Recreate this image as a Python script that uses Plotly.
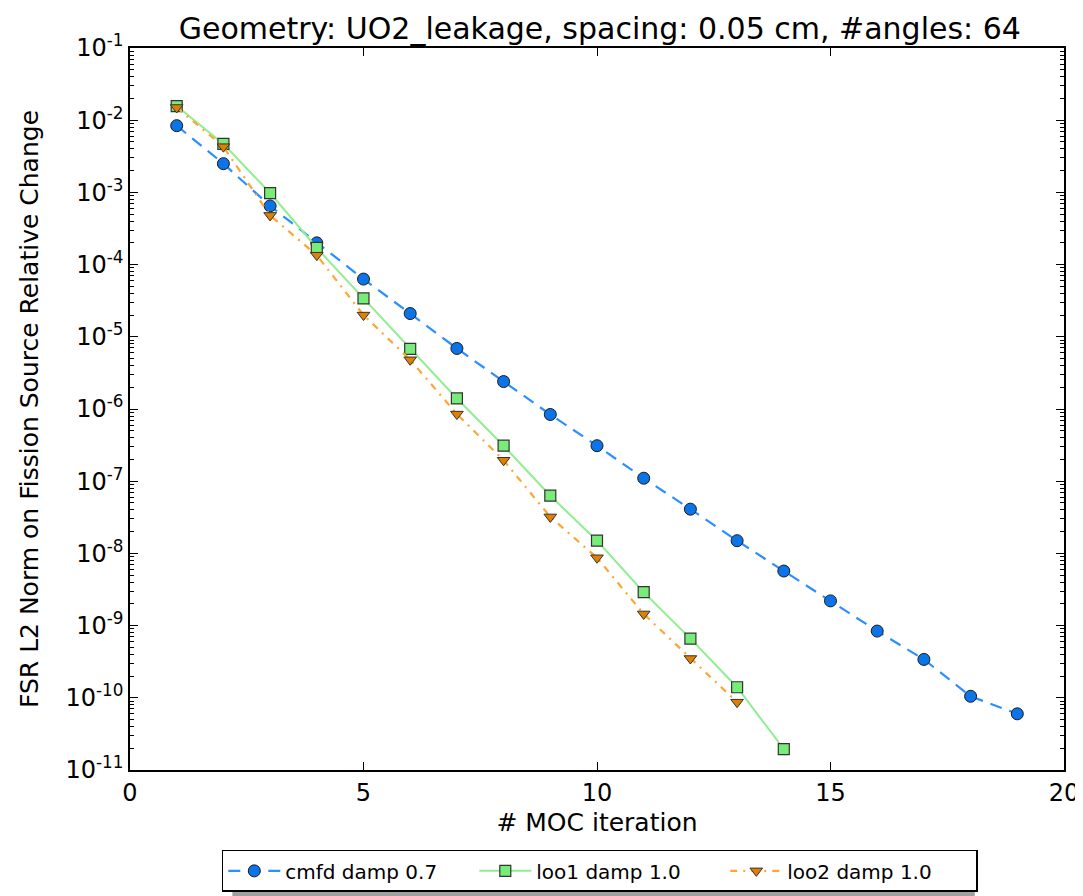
import plotly.graph_objects as go
import numpy as np

iters_cmfd = list(range(1, 20))
cmfd = [8.4e-3, 2.5e-3, 6.5e-4, 2.0e-4, 6.3e-5, 2.1e-5, 6.9e-6, 2.4e-6, 8.4e-7, 3.1e-7,
        1.1e-7, 4.1e-8, 1.5e-8, 5.7e-9, 2.2e-9, 8.4e-10, 3.4e-10, 1.05e-10, 6.0e-11]
iters_loo1 = list(range(1, 15))
loo1 = [1.57e-2, 4.7e-3, 9.8e-4, 1.7e-4, 3.4e-5, 6.8e-6, 1.4e-6, 3.1e-7, 6.3e-8, 1.5e-8,
        2.9e-9, 6.6e-10, 1.4e-10, 1.95e-11]
iters_loo2 = list(range(1, 14))
loo2 = [1.5e-2, 4.3e-3, 4.8e-4, 1.35e-4, 2.0e-5, 4.8e-6, 8.5e-7, 1.95e-7, 3.2e-8, 8.7e-9,
        1.45e-9, 3.5e-10, 8.7e-11]

exps = list(range(-11, 0))
ytickvals = [10.0 ** e for e in exps]
yticktext = [f"10<sup>{e}</sup>" for e in exps]
yminor = [m * 10.0 ** e for e in range(-11, -1) for m in range(2, 10)]
xticks = [0, 5, 10, 15, 20]

FONT = "DejaVu Sans"

fig = go.Figure()
fig.add_trace(go.Scatter(
    x=iters_cmfd, y=cmfd, name="cmfd damp 0.7", mode="lines+markers",
    line=dict(color="#2b8fff", width=2.2, dash="12px,8px"),
    marker=dict(symbol="circle", size=12, color="#0a74e8", line=dict(color="#1a1a1a", width=1)),
))
fig.add_trace(go.Scatter(
    x=iters_loo1, y=loo1, name="loo1 damp 1.0", mode="lines+markers",
    line=dict(color="#90ee90", width=2),
    marker=dict(symbol="square", size=11, color="#78ec78", line=dict(color="#333333", width=1.2)),
))
fig.add_trace(go.Scatter(
    x=iters_loo2, y=loo2, name="loo2 damp 1.0", mode="lines+markers",
    line=dict(color="#ffa533", width=2.2, dash="7px,6px,2px,6px"),
    marker=dict(symbol="triangle-down", size=11, color="#e08000", line=dict(color="#333333", width=1)),
))

# legend drop shadow
fig.add_shape(type="rect", xref="paper", yref="paper",
              x0=0.1096, x1=0.9045, y0=-0.1745, y1=-0.1164,
              fillcolor="#a0a0a0", line=dict(width=0), layer="below")

fig.update_layout(
    width=1083, height=896,
    margin=dict(l=122, r=21, t=40, b=126),
    paper_bgcolor="white", plot_bgcolor="white",
    font=dict(family=FONT, size=22, color="black"),
    title=dict(text="Geometry: UO2_leakage, spacing: 0.05 cm, #angles: 64",
               x=0.503, xref="paper", xanchor="center", y=0.977, yanchor="middle",
               font=dict(family=FONT, size=30)),
    showlegend=True,
    legend=dict(orientation="h", x=0.503, xanchor="center", y=-0.1397, yanchor="middle",
                bordercolor="black", borderwidth=1.5, bgcolor="white",
                font=dict(family=FONT, size=20), itemwidth=52, entrywidthmode="pixels",
                entrywidth=184),
)
fig.update_xaxes(
    range=[0, 20], tickvals=xticks, ticks="inside", ticklen=8, tickcolor="black",
    showline=True, linecolor="black", linewidth=1.5, mirror="ticks",
    showgrid=False, zeroline=False,
    title=dict(text="# MOC iteration", font=dict(family=FONT, size=25), standoff=8),
    tickfont=dict(family=FONT, size=24),
)
fig.update_yaxes(
    type="log", range=[-11, -1], tickvals=ytickvals, ticktext=yticktext,
    ticks="inside", ticklen=8, tickcolor="black",
    minor=dict(tickvals=yminor, ticks="inside", ticklen=4, tickcolor="black", showgrid=False),
    showline=True, linecolor="black", linewidth=1.5, mirror="ticks",
    showgrid=False, zeroline=False,
    title=dict(text="FSR L2 Norm on Fission Source Relative Change", font=dict(family=FONT, size=25), standoff=20),
    tickfont=dict(family=FONT, size=24),
)

fig.write_html("out.html")
